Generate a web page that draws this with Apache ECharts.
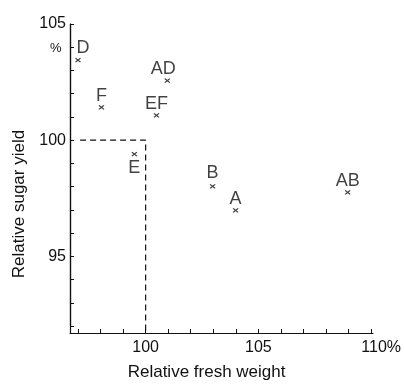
<!DOCTYPE html>
<html>
<head>
<meta charset="utf-8">
<script src="https://cdn.jsdelivr.net/npm/echarts@6/dist/echarts.min.js"></script>
<style>
  html, body { margin: 0; padding: 0; background: #fff; }
  #chart { width: 404px; height: 386px; }
</style>
</head>
<body>
<div id="chart"></div>
<script>
// 품종 조합별 상대 생체중 / 상대 당 수량 (Polyx = 100 기준)
const names = ['D', 'AD', 'F', 'EF', 'E', 'B', 'A', 'AB'];
const freshWeight = [97.0, 100.96, 98.04, 100.48, 99.5, 102.97, 103.99, 108.96];
const sugarYield = [103.45, 102.56, 101.41, 101.07, 99.4, 98.01, 96.98, 97.75];

// 기준선 (Polyx)
const refName = 'Polyx';
const refPath = [[96.65, 100], [100, 100], [100, 91.8]];

const xTickLabels = { 100: '100', 105: '105', 110: '110%' };
const yTickLabels = { 95: '95', 100: '100', 105: '105' };

const SANS = '"Liberation Sans", Arial, sans-serif';
const INK = '#111';

// 라벨 위치 보정 (스타일)
const labelOffsets = { D: [5, 0], AD: [-4, 0], B: [0, -2] };
const labelBelow = { E: true };

const chart = echarts.init(document.getElementById('chart'));

const pointData = names.map((n, i) => ({
    name: n,
    value: [freshWeight[i], sugarYield[i]],
    label: {
        position: labelBelow[n] ? 'bottom' : 'top',
        distance: labelBelow[n] ? 2 : 0,
        offset: labelOffsets[n] || [0, 0]
    }
}));

const option = {
    backgroundColor: '#fff',
    animation: false,
    title: {
        text: '%',
        left: 45,
        top: 37,
        textStyle: { fontFamily: SANS, fontWeight: 'normal', fontSize: 13, color: INK }
    },
    grid: [
        { left: 78, right: 31, top: 24, bottom: 60 },
        // 상단/우측 테두리용
        { left: 70, right: 31, top: 24, bottom: 53 }
    ],
    xAxis: [{
        type: 'value',
        gridIndex: 0,
        min: 97,
        max: 110,
        interval: 1,
        offset: 7,
        splitLine: { show: false },
        axisLine: { lineStyle: { color: INK, width: 1.2 } },
        axisTick: { inside: true, length: 4, lineStyle: { color: INK } },
        axisLabel: {
            margin: 7,
            fontFamily: SANS,
            fontSize: 16,
            color: INK,
            formatter: v => v === 110 ? '{p|110%}' : (xTickLabels[v] || ''),
            rich: { p: { fontFamily: SANS, fontSize: 16, color: INK, padding: [0, 0, 0, 20] } }
        },
        name: 'Relative fresh weight',
        nameLocation: 'middle',
        nameGap: 31,
        nameTextStyle: { fontFamily: SANS, fontSize: 17, color: INK, padding: [0, 36, 0, 0] }
    }, {
        type: 'value',
        gridIndex: 1,
        position: 'top',
        min: 0,
        max: 1,
        splitLine: { show: false },
        axisLine: { show: true, lineStyle: { color: INK, width: 1.2 } },
        axisTick: { show: false },
        axisLabel: { show: false }
    }],
    yAxis: [{
        type: 'value',
        gridIndex: 0,
        min: 92,
        max: 105,
        interval: 1,
        offset: 8,
        splitLine: { show: false },
        axisLine: { show: true, lineStyle: { color: INK, width: 1.2 } },
        axisTick: { show: true, inside: true, length: 4, lineStyle: { color: INK } },
        axisLabel: {
            margin: 4,
            fontFamily: SANS,
            fontSize: 16,
            color: INK,
            formatter: v => yTickLabels[v] || ''
        },
        name: 'Relative sugar yield',
        nameLocation: 'middle',
        nameGap: 42,
        nameTextStyle: { fontFamily: SANS, fontSize: 17, color: INK, padding: [0, 58, 0, 0] }
    }, {
        type: 'value',
        gridIndex: 1,
        position: 'right',
        min: 0,
        max: 1,
        splitLine: { show: false },
        axisLine: { show: true, lineStyle: { color: INK, width: 1.2 } },
        axisTick: { show: false },
        axisLabel: { show: false }
    }],
    series: [{
        type: 'line',
        xAxisIndex: 0,
        yAxisIndex: 0,
        data: refPath.map((p, i) => ({
            value: p,
            label: {
                show: i === 1,
                formatter: refName,
                position: 'right',
                distance: 2,
                offset: [0, 2],
                fontFamily: SANS,
                fontSize: 16,
                color: INK
            }
        })),
        symbol: 'none',
        clip: false,
        lineStyle: { color: INK, width: 1.2, type: [6, 4] },
        silent: true
    }, {
        type: 'scatter',
        xAxisIndex: 0,
        yAxisIndex: 0,
        data: pointData,
        clip: false,
        symbol: 'path://M0,0L10,10M10,0L0,10',
        symbolSize: [5, 4],
        itemStyle: { color: 'transparent', borderColor: INK, borderWidth: 1.2 },
        label: {
            show: true,
            formatter: p => p.name,
            fontFamily: SANS,
            fontSize: 18,
            color: INK
        }
    }]
};

chart.setOption(option);
</script>
</body>
</html>
